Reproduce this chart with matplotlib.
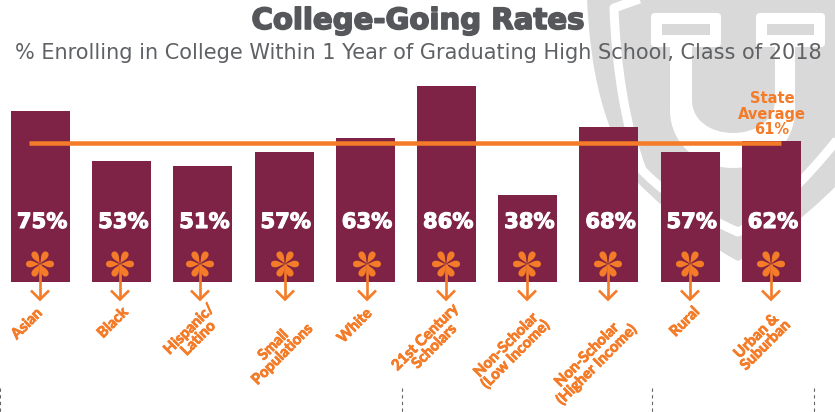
import matplotlib
matplotlib.use('Agg')
import matplotlib.pyplot as plt
import matplotlib.patheffects as pe
from matplotlib.patches import FancyBboxPatch, PathPatch, Rectangle
from matplotlib.path import Path
from matplotlib.transforms import Affine2D

# Chart data
categories = ['Asian', 'Black', 'Hispanic/\nLatino', 'Small\nPopulations', 'White',
              '21st Century\nScholars', 'Non-Scholar\n(Low Income)',
              'Non-Scholar\n(Higher Income)', 'Rural', 'Urban &\nSuburban']
rates = [75, 53, 51, 57, 63, 86, 38, 68, 57, 62]
state_average = 61

# Layout, in pixels of the 835x412 picture
W, H = 835, 412
BASE_Y = 282
PX_PER_PCT = 2.28
BAR_STEP = 81.2
FIRST_BAR = 40.5
star_x = [40, 120, 200, 285, 367, 446, 527, 608, 690, 771]
label_xy = [(27, 324), (113, 323), (194, 334), (278, 350), (355, 326),
            (430, 342), (511, 350), (592, 360), (685, 322), (761, 341)]
dash_x = [0, 402, 652, 814]

MAROON = '#7e2345'
ORANGE = '#f47b27'
GRAY = '#d9d9d9'
TEXT = '#55575a'

C4 = Path.CURVE4
L = Path.LINETO

fig = plt.figure(figsize=(W / 100, H / 100), dpi=100, facecolor='white')

# Background shield, pixel coordinates
bg = fig.add_axes([0, 0, 1, 1], zorder=0)
bg.set_xlim(0, W)
bg.set_ylim(H, 0)
bg.axis('off')

shield = Path([(587, -2), (590, 70), (603, 130), (638, 183), (670, 215), (715, 250), (738, 261),
               (760, 250), (805, 218), (837, 185), (837, -2), (587, -2)],
              [Path.MOVETO, C4, C4, C4, C4, C4, C4, C4, C4, C4, L, Path.CLOSEPOLY])
bg.add_patch(PathPatch(shield, fc=GRAY, ec='none'))

stripe = Path([(648, -4), (614, 8), (616, 65), (625, 125), (642, 170), (670, 200), (715, 222), (738, 232),
               (765, 220), (805, 180), (837, 140)],
              [Path.MOVETO, L, C4, C4, C4, C4, C4, C4, C4, C4, C4])
bg.add_patch(PathPatch(stripe, fc='none', ec='white', lw=9 * 0.72, joinstyle='round'))

# U, drawn as a white shape with a gray bowl on top of it
u_outer = Path([(670, 30), (670, 110), (670, 145), (700, 168), (733, 168),
                (766, 168), (795, 145), (795, 110), (795, 30), (670, 30)],
               [Path.MOVETO, L, C4, C4, C4, C4, C4, C4, L, Path.CLOSEPOLY])
u_inner = Path([(692, 30), (692, 100), (692, 120), (710, 133), (733, 133),
                (756, 133), (775, 120), (775, 100), (775, 30), (692, 30)],
               [Path.MOVETO, L, C4, C4, C4, C4, C4, C4, L, Path.CLOSEPOLY])
bg.add_patch(PathPatch(u_outer, fc='white', ec='none'))
bg.add_patch(PathPatch(u_inner, fc=GRAY, ec='none'))

for x0, x1 in [(651, 721), (756, 825)]:
    bg.add_patch(FancyBboxPatch((x0 + 4, 17), x1 - x0 - 8, 26, boxstyle='round,pad=4',
                                fc='white', ec='none'))
for x0, x1 in [(662, 710), (767, 814)]:
    bg.add_patch(Rectangle((x0, 24), x1 - x0, 11, fc=GRAY, ec='none'))

# Bars
ax = fig.add_axes([0, 0, 1, 1], zorder=1)
ax.patch.set_alpha(0)
ax.set_xlim(-FIRST_BAR / BAR_STEP, (W - FIRST_BAR) / BAR_STEP)
ax.set_ylim((BASE_Y - H) / PX_PER_PCT, BASE_Y / PX_PER_PCT)
ax.axis('off')

positions = list(range(len(rates)))
ax.bar(positions, rates, width=59 / BAR_STEP, color=MAROON, zorder=2)
ax.hlines(state_average, (29 - FIRST_BAR) / BAR_STEP, (781 - FIRST_BAR) / BAR_STEP,
          color=ORANGE, lw=4.5 * 0.72, zorder=3)

for pos, rate in zip(positions, rates):
    ax.text(pos + 0.02, (BASE_Y - 222) / PX_PER_PCT, f'{rate}%', color='white', fontsize=15.2,
            fontweight='bold', ha='center', va='center', zorder=4,
            path_effects=[pe.withStroke(linewidth=0.8, foreground='white')])

# Flowers, arrows and rotated labels
px = fig.add_axes([0, 0, 1, 1], zorder=2)
px.patch.set_alpha(0)
px.set_xlim(0, W)
px.set_ylim(H, 0)
px.axis('off')

petal = Path([(0, 0), (4, -0.6), (6, -3.3), (10, -3.3), (12.8, -3.3), (14, -1.8), (14, 0),
              (14, 1.8), (12.8, 3.3), (10, 3.3), (6, 3.3), (4, 0.6), (0, 0)],
             [Path.MOVETO, C4, C4, C4, C4, C4, C4, C4, C4, C4, C4, C4, C4])
for x in star_x:
    for angle in [0, 180, 60, 120, -60, -120]:
        tr = Affine2D().rotate_deg(angle).translate(x, 264) + px.transData
        px.add_patch(PathPatch(petal, fc=ORANGE, ec='none', transform=tr))
    px.plot([x, x], [264, 299], color=ORANGE, lw=1.9, solid_capstyle='butt')
    px.plot([x - 9, x, x + 9], [290.5, 299.5, 290.5], color=ORANGE, lw=1.9,
            solid_joinstyle='miter', solid_capstyle='butt')

for (x, y), name in zip(label_xy, categories):
    px.text(x, y, name, color=ORANGE, rotation=45, rotation_mode='anchor', ha='center',
            va='center', multialignment='center', fontsize=10.8, fontweight='bold',
            family='Lato', linespacing=0.9,
            path_effects=[pe.withStroke(linewidth=0.6, foreground=ORANGE)])

for x in dash_x:
    px.plot([x, x], [388, 412], color='#666666', lw=0.8, ls=(0, (3, 3)))

for y, line in zip([98, 114, 130], ['State', 'Average', f'{state_average}%']):
    px.text(772, y, line, color=ORANGE, fontsize=10.5, fontweight='bold',
            ha='center', va='center')

# Titles
px.text(418, 21, 'College-Going Rates', color=TEXT, fontsize=21, fontweight='bold',
        ha='center', va='center',
        path_effects=[pe.withStroke(linewidth=1.2, foreground=TEXT)])
px.text(418, 53, '% Enrolling in College Within 1 Year of Graduating High School, Class of 2018',
        color='#5f6164', fontsize=15, ha='center', va='center')

fig.savefig('out.png', dpi=100)
